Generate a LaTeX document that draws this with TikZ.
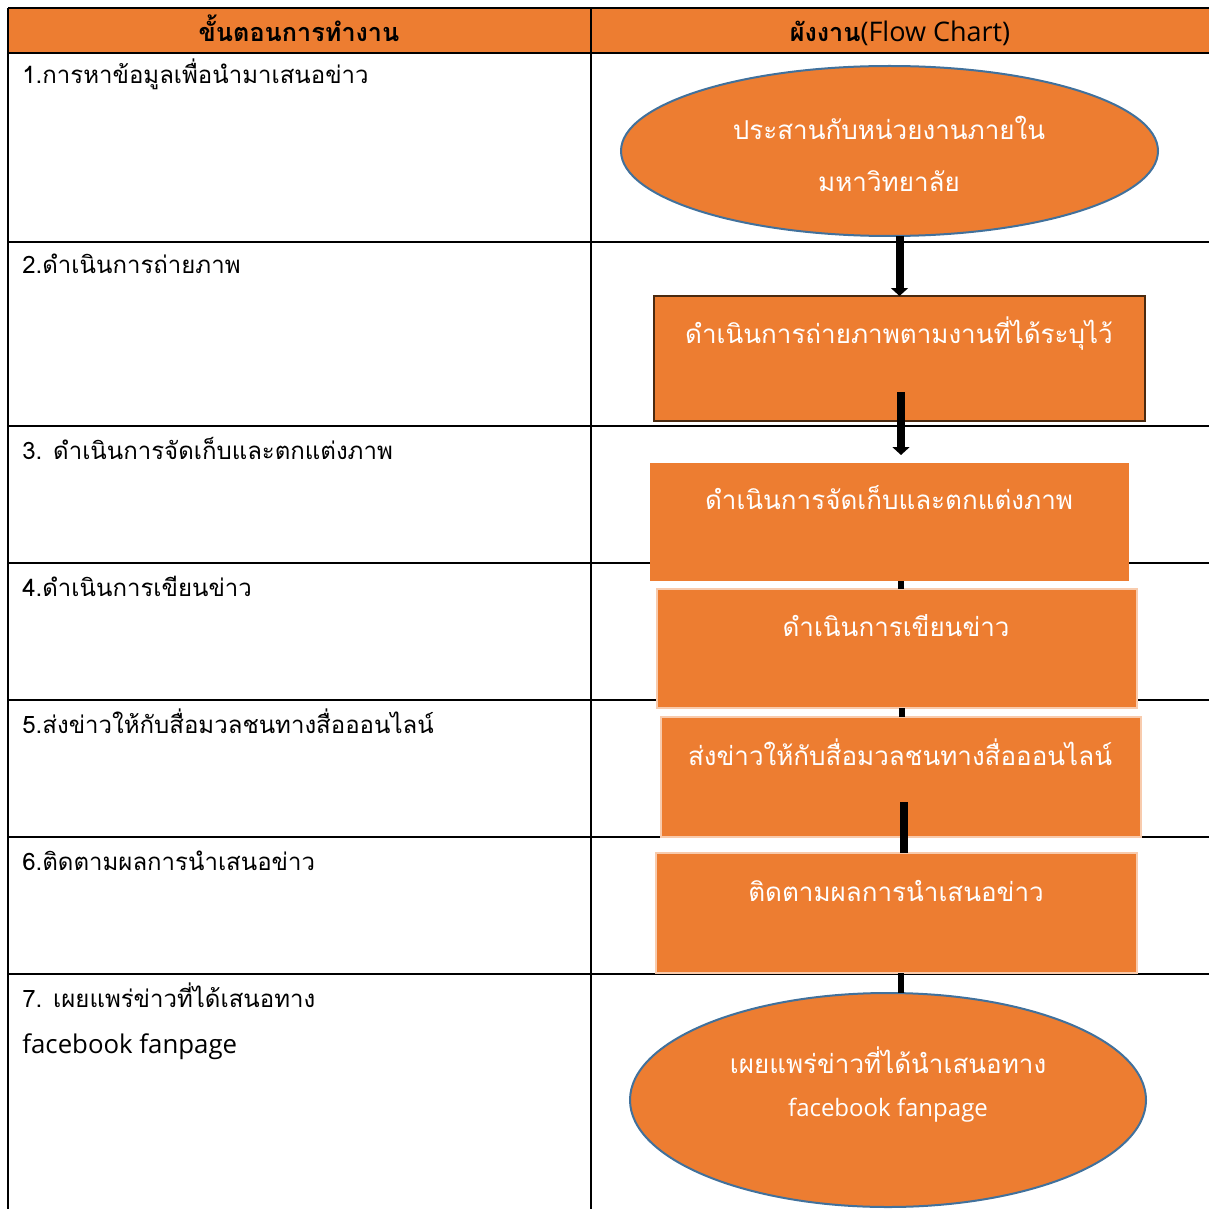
\documentclass[tikz,border=0pt]{standalone}
\usepackage{fontspec}
\usetikzlibrary{arrows.meta,shapes.geometric}
\newfontfamily\thaifont[Script=Thai]{Loma}
\newfontfamily\latfont{Open Sans}
\definecolor{orng}{HTML}{ED7D31}
\definecolor{eborder}{HTML}{41719C}
\definecolor{darkbr}{HTML}{4A2A10}
\definecolor{peach}{HTML}{F8CBAD}
\begin{document}
\begin{tikzpicture}[x=0.5pt,y=-0.5pt,
  tline/.style={line width=1pt,black},
  lefttext/.style={anchor=base west,inner sep=0pt,font=\thaifont\fontsize{12}{14}\selectfont},
  headtext/.style={anchor=base,inner sep=0pt,font=\thaifont\bfseries\fontsize{12.6}{14}\selectfont},
  boxtext/.style={anchor=base,inner sep=0pt,text=white,font=\thaifont\fontsize{13}{15}\selectfont},
  procbox/.style={rectangle,fill=orng,inner sep=0pt,outer sep=0pt},
  termell/.style={ellipse,fill=orng,draw=eborder,line width=1pt,inner sep=0pt,outer sep=0pt},
  flowarrow/.style={line width=4pt,black,-{Triangle[width=8.5pt,length=4pt]}},
  flowbar/.style={line width=3pt,black}
]
\useasboundingbox (0,0) rectangle (1209,1209);
% table
\fill[orng] (8,8) rectangle (1209,53);
\foreach \yy in {8,53,242,426,563,700,837,974} {\draw[tline] (8,\yy) -- (1209,\yy);}
\draw[tline] (8,8) -- (8,1209);
\draw[tline] (591,8) -- (591,1209);
% header
\node[headtext] (h1) at (299,42) {ขั้นตอนการทำงาน};
\node[headtext] (h2) at (900,42) {ผังงาน{\latfont\fontsize{13.5}{15}\selectfont\mdseries (Flow Chart)}};
% left column
\node[lefttext] (l1) at (22,84) {1.การหาข้อมูลเพื่อนำมาเสนอข่าว};
\node[lefttext] (l2) at (22,273) {2.ดำเนินการถ่ายภาพ};
\node[lefttext] (l3) at (22,459) {3. ดำเนินการจัดเก็บและตกแต่งภาพ};
\node[lefttext] (l4) at (22,596) {4.ดำเนินการเขียนข่าว};
\node[lefttext] (l5) at (22,733) {5.ส่งข่าวให้กับสื่อมวลชนทางสื่อออนไลน์};
\node[lefttext] (l6) at (22,870) {6.ติดตามผลการนำเสนอข่าว};
\node[lefttext] (l7) at (22,1007) {7. เผยแพร่ข่าวที่ได้เสนอทาง};
\node[lefttext,font=\latfont\fontsize{12.9}{15}\selectfont] (l7b) at (22,1053) {facebook fanpage};
% flow shapes
\node[termell,minimum width=268.5pt,minimum height=85pt] (e1) at (889.5,151) {};
\node[procbox,draw=darkbr,line width=0.6pt,minimum width=245.5pt,minimum height=62.5pt] (b2) at (899.5,358.5) {};
\node[procbox,minimum width=239.5pt,minimum height=59pt] (b3) at (889.5,522) {};
\node[procbox,draw=peach,line width=0.6pt,minimum width=240pt,minimum height=59.5pt] (b4) at (897,648.5) {};
\node[procbox,draw=peach,line width=0.6pt,minimum width=240pt,minimum height=60pt] (b5) at (901,777) {};
\node[procbox,draw=peach,line width=0.6pt,minimum width=240.5pt,minimum height=60pt] (b6) at (896.5,913) {};
\node[termell,minimum width=258pt,minimum height=107pt] (e7) at (888,1100) {};
% flow texts
\node[boxtext] (te1a) at (889,140) {ประสานกับหน่วยงานภายใน};
\node[boxtext] (te1b) at (889,192) {มหาวิทยาลัย};
\node[boxtext] (tb2) at (899,343) {ดำเนินการถ่ายภาพตามงานที่ได้ระบุไว้};
\node[boxtext] (tb3) at (889,509) {ดำเนินการจัดเก็บและตกแต่งภาพ};
\node[boxtext] (tb4) at (896,636) {ดำเนินการเขียนข่าว};
\node[boxtext] (tb5) at (900,765) {ส่งข่าวให้กับสื่อมวลชนทางสื่อออนไลน์};
\node[boxtext] (tb6) at (896,901) {ติดตามผลการนำเสนอข่าว};
\node[boxtext] (te7a) at (888,1073) {เผยแพร่ข่าวที่ได้นำเสนอทาง};
\node[boxtext,font=\latfont\fontsize{12}{14}\selectfont] (te7b) at (888,1116) {facebook fanpage};
% connectors
\coordinate (a2s) at (901,392);
\coordinate (a2e) at (901,455);
\coordinate (a5s) at (904,802);
\draw[flowarrow] (e1.south -| b2.north) -- (b2.north);
\draw[flowarrow] (a2s) -- (a2e);
\draw[flowbar] ([xshift=5.75pt]b3.south) -- ([xshift=2pt]b4.north);
\draw[flowbar] ([xshift=2.5pt]b4.south) -- ([xshift=0.5pt]b5.north);
\draw[flowbar,line width=4pt] (a5s) -- ([xshift=3.75pt]b6.north);
\draw[flowbar] ([xshift=2.25pt]b6.south) -- ([xshift=6.5pt]e7.north);
\end{tikzpicture}
\end{document}
